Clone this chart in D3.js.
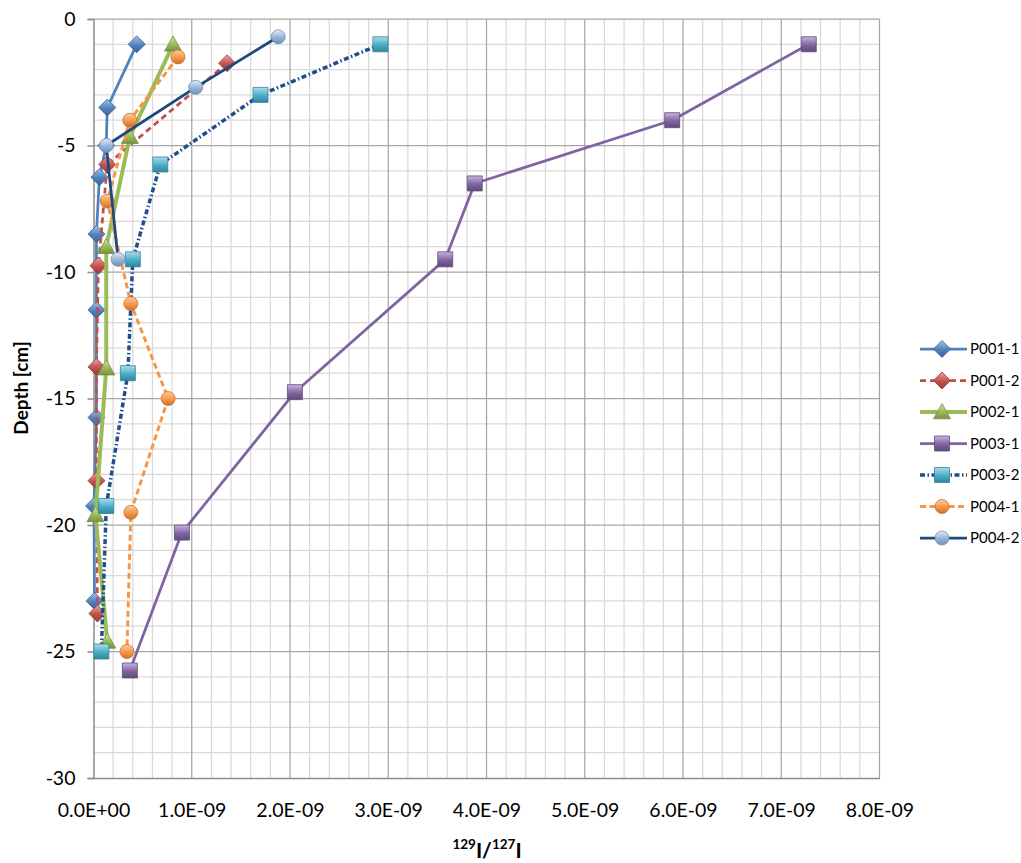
<!DOCTYPE html>
<html>
<head>
<meta charset="utf-8">
<script src="https://cdn.jsdelivr.net/npm/d3@7/dist/d3.min.js"></script>
<style>
  html, body { margin: 0; padding: 0; background: #fff; }
  svg { display: block; }
  text { font-family: Lato, "Open Sans", sans-serif; fill: #000; }
</style>
</head>
<body>
<svg id="chart" width="1021" height="863"></svg>
<script>
// ---------------- DATA ----------------
const seriesNames = ["P001-1", "P001-2", "P002-1", "P003-1", "P003-2", "P004-1", "P004-2"];

const p001_1_ratio = [0.44e-9, 0.14e-9, 0.13e-9, 0.06e-9, 0.03e-9, 0.03e-9, 0.03e-9, 0.005e-9, 0.01e-9];
const p001_1_depth = [-1, -3.5, -5, -6.25, -8.5, -11.5, -15.75, -19.25, -23];

const p001_2_ratio = [1.36e-9, 0.14e-9, 0.05e-9, 0.03e-9, 0.03e-9, 0.04e-9];
const p001_2_depth = [-1.75, -5.75, -9.75, -13.75, -18.25, -23.5];

const p002_1_ratio = [0.81e-9, 0.37e-9, 0.13e-9, 0.13e-9, 0.02e-9, 0.14e-9];
const p002_1_depth = [-1, -4.65, -9, -13.8, -19.6, -24.6];

const p003_1_ratio = [7.28e-9, 5.89e-9, 3.88e-9, 3.58e-9, 2.05e-9, 0.90e-9, 0.37e-9];
const p003_1_depth = [-1, -4, -6.5, -9.5, -14.75, -20.3, -25.75];

const p003_2_ratio = [2.92e-9, 1.70e-9, 0.68e-9, 0.40e-9, 0.35e-9, 0.13e-9, 0.08e-9];
const p003_2_depth = [-1, -3, -5.75, -9.5, -14, -19.25, -25];

const p004_1_ratio = [0.86e-9, 0.37e-9, 0.14e-9, 0.38e-9, 0.76e-9, 0.38e-9, 0.34e-9];
const p004_1_depth = [-1.5, -4, -7.2, -11.25, -15, -19.5, -25];

const p004_2_ratio = [1.88e-9, 1.04e-9, 0.13e-9, 0.25e-9];
const p004_2_depth = [-0.7, -2.7, -5, -9.5];

const xTickValues = [0, 1e-9, 2e-9, 3e-9, 4e-9, 5e-9, 6e-9, 7e-9, 8e-9];
const xTickLabels = ["0.0E+00", "1.0E-09", "2.0E-09", "3.0E-09", "4.0E-09", "5.0E-09", "6.0E-09", "7.0E-09", "8.0E-09"];
const yTickValues = [0, -5, -10, -15, -20, -25, -30];
const yTickLabels = ["0", "-5", "-10", "-15", "-20", "-25", "-30"];

// ---------------- STYLE ----------------
const styles = [
  { line: "#4F81BD", width: 2.75, dash: null, marker: "diamond", fill: "#4F81BD", light: "#a5c2e6", dark: "#3a6396", size: 17 },
  { line: "#C0504D", width: 2.75, dash: "6,4", marker: "diamond", fill: "#C0504D", light: "#e9a9a7", dark: "#973c3a", size: 17 },
  { line: "#9BBB59", width: 4, dash: null, marker: "triangle", fill: "#9BBB59", light: "#d3e5ae", dark: "#76923f", size: 17 },
  { line: "#8064A2", width: 2.75, dash: null, marker: "square", fill: "#8064A2", light: "#c6b6dc", dark: "#5f4a7b", size: 15 },
  { line: "#1F4E8C", width: 3.5, dash: "5,2.5,1.5,2.5", marker: "square", fill: "#4BACC6", light: "#abdeec", dark: "#31859c", size: 15 },
  { line: "#F79646", width: 3, dash: "6,3.5", marker: "circle", fill: "#F79646", light: "#fbcda3", dark: "#c57330", size: 14 },
  { line: "#1F497D", width: 2.75, dash: null, marker: "circle", fill: "#95B3D7", light: "#e2eaf5", dark: "#6f8fb8", size: 14 }
];

const seriesData = [
  [p001_1_ratio, p001_1_depth],
  [p001_2_ratio, p001_2_depth],
  [p002_1_ratio, p002_1_depth],
  [p003_1_ratio, p003_1_depth],
  [p003_2_ratio, p003_2_depth],
  [p004_1_ratio, p004_1_depth],
  [p004_2_ratio, p004_2_depth]
].map(([xs, ds]) => xs.map((v, i) => ({ v: v, d: ds[i] })));

// ---------------- CHART ----------------
const svg = d3.select("#chart");
const plotLeft = 93.5, plotRight = 879.5, plotTop = 19, plotBottom = 778;

const x = d3.scaleLinear().domain([0, 8e-9]).range([plotLeft, plotRight]);
const y = d3.scaleLinear().domain([0, -30]).range([plotTop, plotBottom]);

const defs = svg.append("defs");
styles.forEach((s, i) => {
  const g = defs.append("linearGradient").attr("id", "grad" + i)
    .attr("x1", "0").attr("y1", "0").attr("x2", "0").attr("y2", "1");
  g.append("stop").attr("offset", "0%").attr("stop-color", s.light);
  g.append("stop").attr("offset", "55%").attr("stop-color", s.fill);
  g.append("stop").attr("offset", "100%").attr("stop-color", s.dark);
});

// Minor gridlines
const minorX = d3.range(0, 8e-9 + 1e-12, 0.2e-9).filter(v => Math.abs(v / 1e-9 - Math.round(v / 1e-9)) > 1e-6);
const minorY = d3.range(0, -30.5, -1).filter(v => v % 5 !== 0);
const grid = svg.append("g");
grid.selectAll(".mx").data(minorX).enter().append("line")
  .attr("x1", d => x(d)).attr("x2", d => x(d)).attr("y1", plotTop).attr("y2", plotBottom)
  .attr("stroke", "#d9d9d9").attr("stroke-width", 1.25);
grid.selectAll(".my").data(minorY).enter().append("line")
  .attr("x1", plotLeft).attr("x2", plotRight).attr("y1", d => y(d)).attr("y2", d => y(d))
  .attr("stroke", "#d9d9d9").attr("stroke-width", 1.25);
// Major gridlines
grid.selectAll(".Mx").data(xTickValues.slice(1)).enter().append("line")
  .attr("x1", d => x(d)).attr("x2", d => x(d)).attr("y1", plotTop).attr("y2", plotBottom)
  .attr("stroke", "#a6a6a6").attr("stroke-width", 1.25);
grid.selectAll(".My").data(yTickValues.slice(0, -1)).enter().append("line")
  .attr("x1", plotLeft).attr("x2", plotRight).attr("y1", d => y(d)).attr("y2", d => y(d))
  .attr("stroke", "#a6a6a6").attr("stroke-width", 1.25);

// Axes
const yAxis = d3.axisLeft(y).tickValues(yTickValues).tickFormat((d, i) => yTickLabels[i]).tickSize(6).tickPadding(12);
const gy = svg.append("g").attr("transform", `translate(${plotLeft},0)`).call(yAxis);
gy.select(".domain").attr("stroke", "#8c8c8c").attr("stroke-width", 1.5);
gy.selectAll(".tick line").attr("stroke", "#8c8c8c").attr("stroke-width", 1.5);
gy.selectAll(".tick text").attr("font-size", 19.5).attr("font-family", "Lato").attr("fill", "#000");

const xAxis = d3.axisBottom(x).tickValues(xTickValues).tickFormat((d, i) => xTickLabels[i]).tickSize(0).tickPadding(25);
const gx = svg.append("g").attr("transform", `translate(0,${plotBottom})`).call(xAxis);
gx.select(".domain").attr("stroke", "#8c8c8c").attr("stroke-width", 1.5);
gx.selectAll(".tick text").attr("font-size", 19.5).attr("font-family", "Lato").attr("fill", "#000");

// Axis titles
svg.append("text")
  .attr("transform", `translate(28,388) rotate(-90)`)
  .attr("text-anchor", "middle")
  .attr("font-size", 19).attr("font-weight", "bold")
  .text("Depth [cm]");

const xt = svg.append("text")
  .attr("x", 487).attr("y", 858)
  .attr("text-anchor", "middle")
  .attr("font-weight", "bold").attr("font-size", 21);
xt.append("tspan").attr("font-size", 13.5).attr("dy", -9).text("129");
xt.append("tspan").attr("dy", 9).text("I/");
xt.append("tspan").attr("font-size", 13.5).attr("dy", -9).text("127");
xt.append("tspan").attr("dy", 9).text("I");

// Marker path generator
function markerPath(type, s) {
  const h = s / 2;
  if (type === "diamond") return `M0,${-h}L${h},0L0,${h}L${-h},0Z`;
  if (type === "square") return `M${-h},${-h}H${h}V${h}H${-h}Z`;
  if (type === "triangle") return `M0,${-h}L${h},${h * 0.8}L${-h},${h * 0.8}Z`;
  return d3.symbol(d3.symbolCircle, Math.PI * h * h)();
}

const lineGen = d3.line().x(p => x(p.v)).y(p => y(p.d));

const plot = svg.append("g");
seriesData.forEach((pts, i) => {
  const s = styles[i];
  const g = plot.append("g");
  g.append("path").datum(pts)
    .attr("d", lineGen)
    .attr("fill", "none")
    .attr("stroke", s.line)
    .attr("stroke-width", s.width)
    .attr("stroke-linejoin", "round")
    .attr("stroke-linecap", s.dash ? "butt" : "round")
    .attr("stroke-dasharray", s.dash);
  g.selectAll(".m").data(pts).enter().append("path")
    .attr("transform", p => `translate(${x(p.v)},${y(p.d)})`)
    .attr("d", markerPath(s.marker, s.size))
    .attr("fill", `url(#grad${i})`)
    .attr("stroke", s.dark)
    .attr("stroke-width", 0.8);
});

// Legend
const legend = svg.append("g");
seriesNames.forEach((name, i) => {
  const s = styles[i];
  const ly = 349 + i * 31.5;
  const g = legend.append("g").attr("transform", `translate(0,${ly})`);
  g.append("line").attr("x1", 920).attr("x2", 967).attr("y1", 0).attr("y2", 0)
    .attr("stroke", s.line).attr("stroke-width", s.width)
    .attr("stroke-dasharray", s.dash);
  g.append("path").attr("transform", "translate(942,0)")
    .attr("d", markerPath(s.marker, s.size))
    .attr("fill", `url(#grad${i})`)
    .attr("stroke", s.dark).attr("stroke-width", 0.8);
  g.append("text").attr("x", 970).attr("y", 0).attr("dy", "0.36em")
    .attr("font-size", 15).text(name);
});
</script>
</body>
</html>
